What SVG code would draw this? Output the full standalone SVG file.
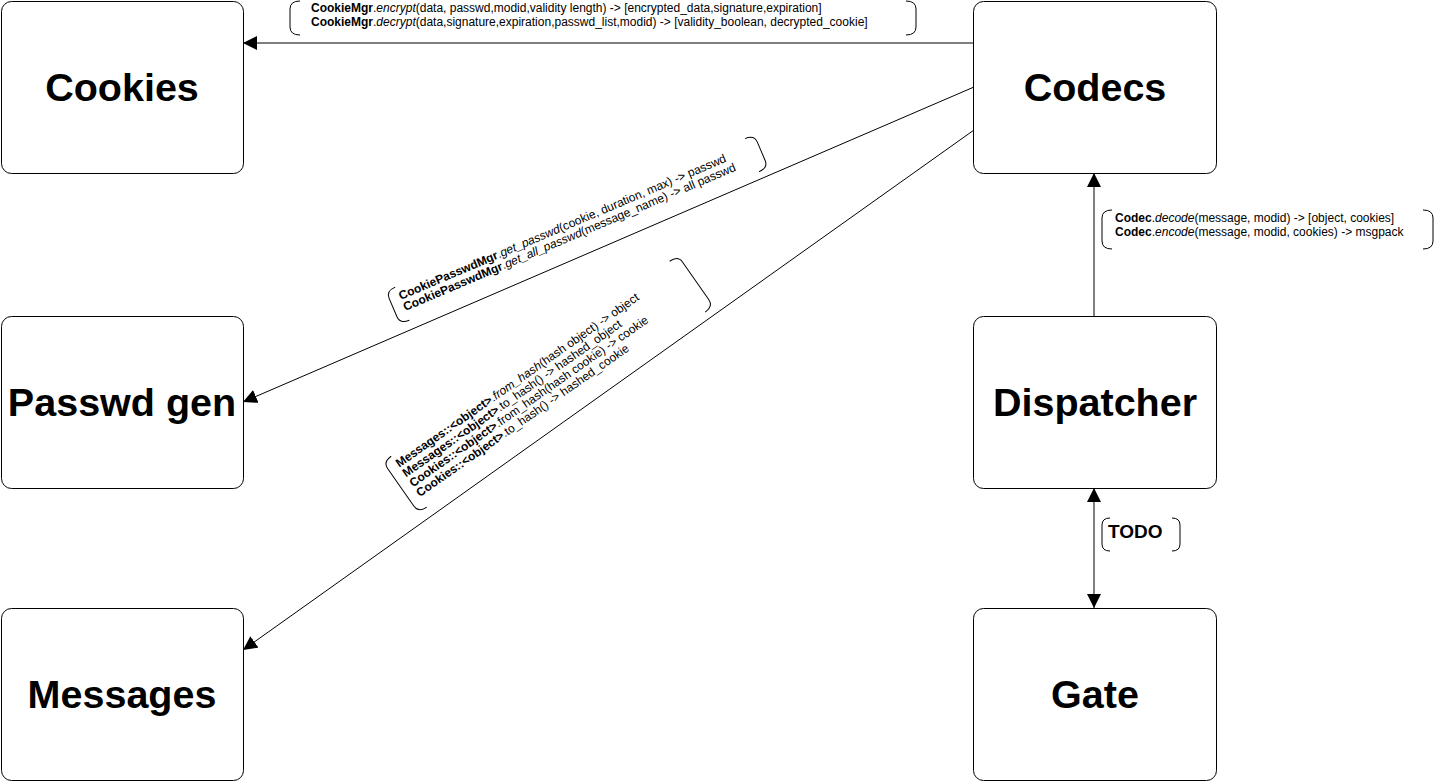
<svg xmlns="http://www.w3.org/2000/svg" width="1434" height="781" viewBox="0 0 1434 781">
<defs>
<marker id="arr" viewBox="0 0 14 14" refX="14" refY="7" markerWidth="14" markerHeight="14" markerUnits="userSpaceOnUse" orient="auto-start-reverse">
<path d="M0,0 L14,7 L0,14 Z" fill="#000"/>
</marker>
</defs>
<style>
.box{fill:#fff;stroke:#000;stroke-width:1}
.big{font-family:"Liberation Sans",Arial,sans-serif;font-weight:bold;font-size:39.5px;text-anchor:middle;fill:#000}
.conn{stroke:#000;stroke-width:1;fill:none}
.br{stroke:#000;stroke-width:1;fill:none}
.lab{font-family:"Liberation Sans",Arial,sans-serif;font-size:12px;fill:#000}
.b{font-weight:bold}
.i{font-style:italic}
</style>
<rect width="1434" height="781" fill="#fff"/>

<g id="connectors">
<line class="conn" x1="974" y1="43" x2="243" y2="43" marker-end="url(#arr)"/>
<line class="conn" x1="974" y1="87" x2="243" y2="402" marker-end="url(#arr)"/>
<line class="conn" x1="974" y1="130" x2="243" y2="650" marker-end="url(#arr)"/>
<line class="conn" x1="1094" y1="316" x2="1094" y2="173" marker-end="url(#arr)"/>
<line class="conn" x1="1094" y1="488" x2="1094" y2="608" marker-start="url(#arr)" marker-end="url(#arr)"/>
</g>

<g id="label-cookiemgr">
<path class="br" d="M300,1 Q290,1 290,9 L290,27 Q290,35 300,35"/>
<path class="br" d="M906,1 Q916,1 916,9 L916,27 Q916,35 906,35"/>
<text class="lab" x="311" y="12"><tspan class="b">CookieMgr</tspan>.<tspan class="i">encrypt</tspan>(data, passwd,modid,validity length) -&gt; [encrypted_data,signature,expiration]</text>
<text class="lab" x="311" y="26"><tspan class="b">CookieMgr</tspan>.<tspan class="i">decrypt</tspan>(data,signature,expiration,passwd_list,modid) -&gt; [validity_boolean, decrypted_cookie]</text>
</g>

<g id="label-passwdmgr" transform="translate(386,291) rotate(-23)">
<path class="br" d="M10,0 Q0,0 0,8 L0,28 Q0,36 10,36"/>
<path class="br" d="M390,0 Q400,0 400,8 L400,28 Q400,36 390,36"/>
<text class="lab" x="10" y="14"><tspan class="b">CookiePasswdMgr</tspan>.<tspan class="i">get_passwd</tspan>(cookie, duration, max) -&gt; passwd</text>
<text class="lab" x="10" y="26"><tspan class="b">CookiePasswdMgr</tspan>.<tspan class="i">get_all_passwd</tspan>(message_name) -&gt; all passwd</text>
</g>

<g id="label-hash" transform="translate(383,462) rotate(-35)">
<path class="br" d="M10,0 Q0,0 0,8 L0,54 Q0,62 10,62"/>
<path class="br" d="M350,0 Q360,0 360,8 L360,54 Q360,62 350,62"/>
<text class="lab" x="10" y="14"><tspan class="b">Messages::&lt;object&gt;</tspan>.<tspan class="i">from_hash</tspan>(hash object) -&gt; object</text>
<text class="lab" x="10" y="26"><tspan class="b">Messages::&lt;object&gt;</tspan>.to_hash() -&gt; hashed_object</text>
<text class="lab" x="10" y="38"><tspan class="b">Cookies::&lt;object&gt;</tspan>.from_hash(hash cookie) -&gt; cookie</text>
<text class="lab" x="10" y="50"><tspan class="b">Cookies::&lt;object&gt;</tspan>.to_hash() -&gt; hashed_cookie</text>
</g>

<g id="label-codec">
<path class="br" d="M1112,210 Q1102,210 1102,218 L1102,241 Q1102,249 1112,249"/>
<path class="br" d="M1423,210 Q1433,210 1433,218 L1433,241 Q1433,249 1423,249"/>
<text class="lab" x="1115" y="222"><tspan class="b">Codec</tspan>.<tspan class="i">decode</tspan>(message, modid) -&gt; [object, cookies]</text>
<text class="lab" x="1115" y="236"><tspan class="b">Codec</tspan>.<tspan class="i">encode</tspan>(message, modid, cookies) -&gt; msgpack</text>
</g>

<g id="label-todo">
<path class="br" d="M1110,518 Q1102,518 1102,525 L1102,544 Q1102,551 1110,551"/>
<path class="br" d="M1172,518 Q1180,518 1180,525 L1180,544 Q1180,551 1172,551"/>
<text class="lab b" x="1108" y="538" style="font-size:19px">TODO</text>
</g>

<g id="node-cookies"><rect class="box" x="1.5" y="1.5" width="242" height="172" rx="10"/><text class="big" x="122" y="101">Cookies</text></g>
<g id="node-passwdgen"><rect class="box" x="1.5" y="316.5" width="242" height="172" rx="10"/><text class="big" x="122" y="416">Passwd gen</text></g>
<g id="node-messages"><rect class="box" x="1.5" y="608.5" width="242" height="172" rx="10"/><text class="big" x="122" y="708">Messages</text></g>
<g id="node-codecs"><rect class="box" x="973.5" y="1.5" width="243" height="172" rx="10"/><text class="big" x="1095" y="101">Codecs</text></g>
<g id="node-dispatcher"><rect class="box" x="973.5" y="316.5" width="243" height="172" rx="10"/><text class="big" x="1095" y="416">Dispatcher</text></g>
<g id="node-gate"><rect class="box" x="973.5" y="608.5" width="243" height="172" rx="10"/><text class="big" x="1095" y="708">Gate</text></g>
</svg>
